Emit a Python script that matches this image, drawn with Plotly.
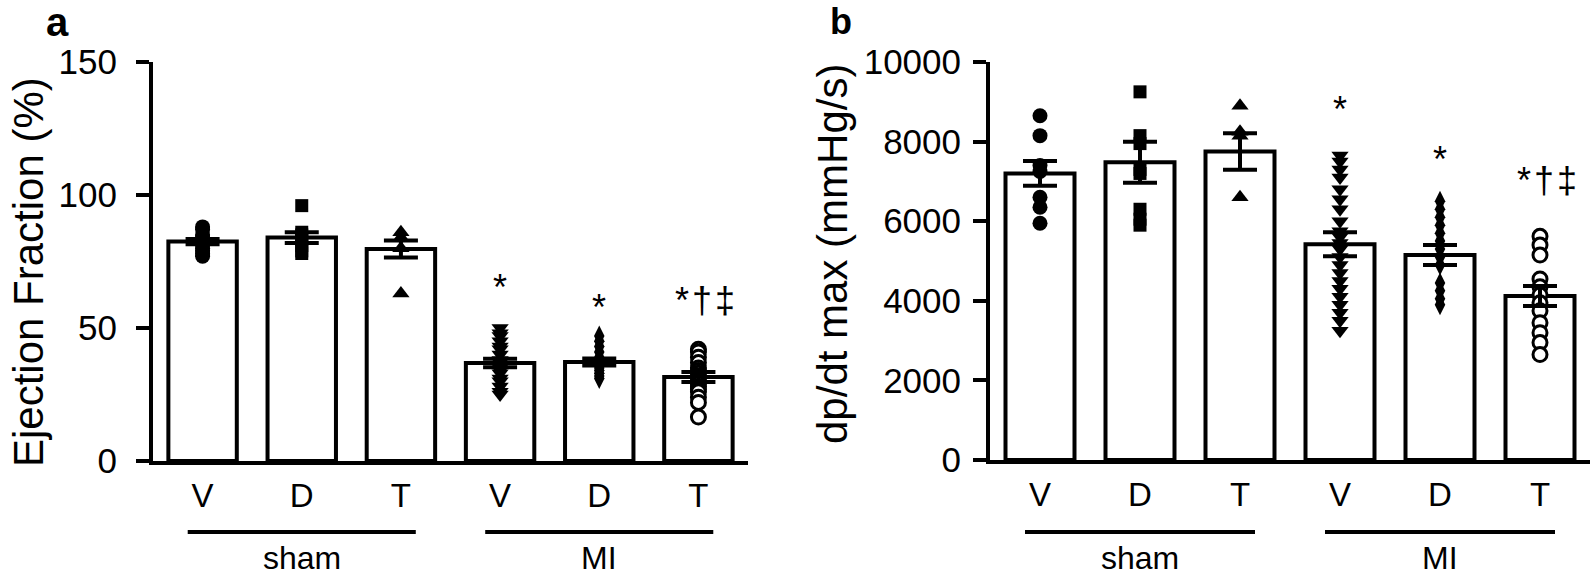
import plotly.graph_objects as go

# ---------------- data ----------------
categories = ["V", "D", "T", "V", "D", "T"]
group_names = ["sham", "MI"]

ef_ticks = [0, 50, 100, 150]
ef_mean = [82.5, 84.0, 79.7, 36.8, 37.2, 31.6]
ef_sem = [1.0, 2.0, 3.2, 1.6, 1.3, 1.9]
ef_points = [
    [88, 87, 85, 84, 83, 82, 81, 80, 79, 78, 77],
    [96, 86, 85, 83, 81, 79, 78],
    [86, 84, 80, 63],
    [50, 48, 47, 45, 43, 42, 40, 38, 37, 36, 35, 34, 33, 31, 30, 28, 26, 25],
    [47, 45, 43, 41, 39, 38, 37, 36, 35, 34, 33, 32, 31],
    [42, 41, 39, 37, 35, 34, 33, 32, 31, 30, 29, 28, 27, 26, 24, 22, 16.5],
]
ef_marks = ["*", "*", "*\u200a†\u200a‡"]
ef_mark_y = [66.9, 59.4, 60.5]

dp_ticks = [0, 2000, 4000, 6000, 8000, 10000]
dp_mean = [7200, 7480, 7750, 5420, 5150, 4120]
dp_sem = [310, 515, 460, 300, 250, 250]
dp_points = [
    [8650, 8150, 7400, 7250, 6600, 6350, 5950],
    [9250, 8150, 7950, 7300, 7200, 6300, 6050, 5900],
    [8900, 8250, 8150, 6600],
    [7650, 7500, 7300, 7100, 6800, 6550, 6300, 6000, 5750, 5600, 5450,
     5300, 5100, 4900, 4700, 4500, 4300, 4100, 3900, 3700, 3500, 3250],
    [6500, 6300, 6100, 5900, 5700, 5500, 5300, 5100, 4900, 4450, 4250, 4050, 3900],
    [5620, 5400, 5150, 4550, 4350, 4150, 3950, 3750, 3450, 3200, 2950, 2650],
]
dp_marks = ["*", "*", "*\u200a†\u200a‡"]
dp_mark_y = [8908, 7654, 7026]

symbols = ["circle", "square", "triangle-up", "triangle-down", "diamond-tall", "circle"]
sizes = [15, 13, 15, 15, 15, 14]

# ---------------- figure ----------------
W, H = 1595, 582
FONT = "Liberation Sans, Arial, sans-serif"
fig = go.Figure()

xpos = list(range(len(categories)))


def add_panel(means, sems, points, xa, ya):
    fig.add_trace(go.Bar(
        x=xpos, y=means, width=0.69, xaxis=xa, yaxis=ya,
        marker=dict(color="white", line=dict(color="black", width=4)),
        hoverinfo="skip"))
    for i, pts in enumerate(points):
        open_marker = (i == 5)
        fig.add_trace(go.Scatter(
            x=[xpos[i]] * len(pts), y=pts, mode="markers", xaxis=xa, yaxis=ya,
            marker=dict(symbol=symbols[i], size=sizes[i],
                        color="white" if open_marker else "black",
                        line=dict(color="black", width=3 if open_marker else 0)),
            hoverinfo="skip"))
    fig.add_trace(go.Scatter(
        x=xpos, y=means, mode="markers", xaxis=xa, yaxis=ya,
        marker=dict(size=1, opacity=0),
        error_y=dict(type="data", array=sems, visible=True,
                     color="black", thickness=4, width=17),
        hoverinfo="skip"))


add_panel(ef_mean, ef_sem, ef_points, "x", "y")
add_panel(dp_mean, dp_sem, dp_points, "x2", "y2")


def px_x(p):
    return p / W


def px_y(p):
    return (H - p) / H


xa_common = dict(
    range=[-0.5, 5.5], tickmode="array", tickvals=xpos, ticktext=categories,
    showline=True, linecolor="black", linewidth=4, ticks="",
    showgrid=False, zeroline=False, ticklabelstandoff=2, automargin=False,
    tickfont=dict(family=FONT, size=33, color="black"), fixedrange=True)
ya_common = dict(
    showline=True, linecolor="black", linewidth=4, ticks="outside",
    ticklen=13, tickwidth=4, tickcolor="black", showgrid=False,
    zeroline=False, automargin=False, tickmode="array",
    tickfont=dict(family=FONT, size=35, color="black"), fixedrange=True)

fig.update_layout(
    width=W, height=H, margin=dict(l=0, r=0, t=0, b=0, autoexpand=False),
    paper_bgcolor="white", plot_bgcolor="white", showlegend=False,
    xaxis=dict(domain=[px_x(153), px_x(748)], anchor="y", **xa_common),
    yaxis=dict(domain=[px_y(461), px_y(62)], anchor="x", range=[0, 150],
               ticklabelstandoff=12,
               tickvals=ef_ticks, ticktext=[str(v) for v in ef_ticks], **ya_common),
    xaxis2=dict(domain=[px_x(990), px_x(1590)], anchor="y2", **xa_common),
    yaxis2=dict(domain=[px_y(460), px_y(62)], anchor="x2", range=[0, 10000],
                ticklabelstandoff=5,
                tickvals=dp_ticks, ticktext=[str(v) for v in dp_ticks], **ya_common),
)

ann = []
# significance marks
for k, (txt, yv) in enumerate(zip(ef_marks, ef_mark_y)):
    single = txt == "*"
    ann.append(dict(x=3 + k, y=yv, xref="x", yref="y", text=txt, showarrow=False,
                    font=dict(family=FONT, size=36, color="black"),
                    yanchor="middle", yshift=-4 if single else 0,
                    xshift=0 if single else 7))
for k, (txt, yv) in enumerate(zip(dp_marks, dp_mark_y)):
    single = txt == "*"
    ann.append(dict(x=3 + k, y=yv, xref="x2", yref="y2", text=txt, showarrow=False,
                    font=dict(family=FONT, size=36, color="black"),
                    yanchor="middle", yshift=-4 if single else 0,
                    xshift=0 if single else 7))

# group lines and labels
shapes = []
for xr in ["x", "x2"]:
    for g, (a, b) in enumerate([(0, 2), (3, 5)]):
        shapes.append(dict(type="line", xref=xr, yref="paper",
                           x0=a - 0.15, x1=b + 0.15, y0=px_y(532), y1=px_y(532),
                           line=dict(color="black", width=4)))
        ann.append(dict(x=(a + b) / 2, y=px_y(558), xref=xr, yref="paper",
                        text=group_names[g], showarrow=False,
                        font=dict(family=FONT, size=32, color="black"),
                        yanchor="middle"))

# axis titles
ann.append(dict(x=px_x(28), y=px_y(272), xref="paper", yref="paper",
                text="Ejection Fraction (%)", textangle=-90, showarrow=False,
                font=dict(family=FONT, size=42, color="black"),
                xanchor="center", yanchor="middle"))
ann.append(dict(x=px_x(832), y=px_y(254), xref="paper", yref="paper",
                text="dp/dt max (mmHg/s)", textangle=-90, showarrow=False,
                font=dict(family=FONT, size=42, color="black"),
                xanchor="center", yanchor="middle"))
# panel letters
ann.append(dict(x=px_x(57), y=px_y(22), xref="paper", yref="paper", text="<b>a</b>",
                showarrow=False, font=dict(family=FONT, size=40, color="black"),
                xanchor="center", yanchor="middle"))
ann.append(dict(x=px_x(841), y=px_y(22), xref="paper", yref="paper", text="<b>b</b>",
                showarrow=False, font=dict(family=FONT, size=36, color="black"),
                xanchor="center", yanchor="middle"))

fig.update_layout(annotations=ann, shapes=shapes)
fig.write_html(
    "out.html",
    config={"displayModeBar": False},
    post_script="document.body.style.margin='0';document.body.style.padding='0';"
                "document.body.style.overflow='hidden';")
